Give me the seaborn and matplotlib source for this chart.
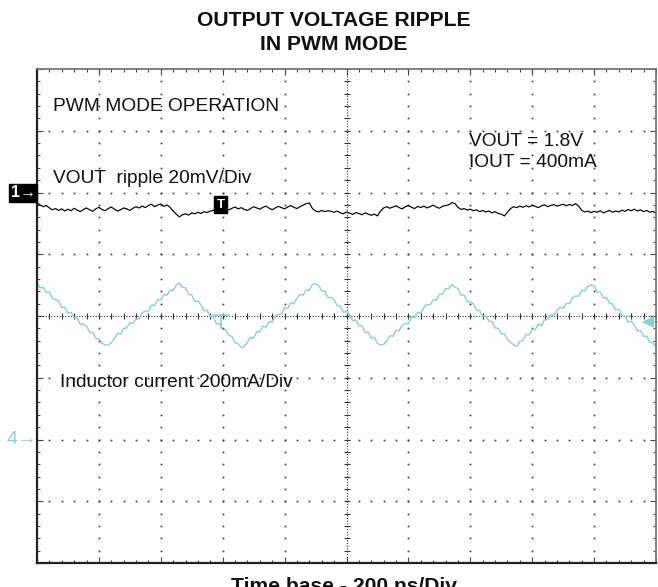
import numpy as np
import pandas as pd
import matplotlib
matplotlib.use("Agg")
import matplotlib.pyplot as plt
import seaborn as sns

# ---------------- data ----------------
SAMPLE_NS = 10           # sample spacing of the traces
NS_PER_DIV = 200         # time base
VOUT_MV_PER_DIV = 20     # channel 1 scale
IL_MA_PER_DIV = 200      # channel 4 scale
CH1_GROUND_DIV = 2       # channel 1 marker position (divisions from centre)
CH4_GROUND_DIV = -2      # channel 4 marker position

# VOUT ripple (mV relative to channel-1 reference), one value per 10 ns
vout_ripple_mv = [
    -3.4, -4.0, -4.6, -4.2, -5.0, -5.6, -5.2, -5.8,
    -5.3, -6.0, -5.4, -5.9, -5.1, -5.7, -6.2, -5.5, -5.0, -5.6, -6.1, -5.3, -4.8,
    -5.5, -5.9, -5.2, -4.7, -5.4, -6.0, -5.6, -5.0, -5.3, -5.8, -5.1, -4.6, -5.0,
    -4.4, -4.9, -4.2, -3.8, -4.6, -4.1, -3.7, -4.5, -4.0, -4.8,
    -6.0, -7.0, -7.9, -7.2,
    -6.9, -7.3, -6.6, -6.9, -6.4, -6.8, -6.2, -6.5, -6.0, -5.8,
    -5.5, -5.2, -5.7, -5.4,
    -5.6, -5.1, -4.7, -5.3, -4.9, -5.5, -5.8, -5.2, -4.6, -5.0, -5.4, -4.8, -4.4,
    -5.1, -5.6, -5.0, -4.5, -4.9, -5.3, -4.7, -4.2, -4.8, -5.2, -4.6, -4.1, -3.6, -3.4,
    -5.2, -6.0, -6.3, -5.8, -6.2, -5.9, -6.1,
    -6.4, -6.0, -6.6, -6.9, -6.3, -6.7, -7.1, -6.5, -6.8, -7.2, -6.6, -7.0, -7.4, -7.0, -7.6,
    -6.0, -5.0, -4.6, -5.1, -4.7, -4.3, -4.9, -5.3, -4.6, -4.2, -4.8, -5.2, -4.5,
    -4.9, -4.4, -5.0, -4.6, -4.1, -4.7, -5.1, -4.5, -4.2, -4.0,
    -3.3, -3.5,
    -4.8, -5.5, -5.2, -5.7, -5.4,
    -5.9, -5.6, -6.2, -5.8, -6.3, -6.0, -6.6, -6.2, -6.8, -7.0, -7.6, -6.4,
    -5.2, -4.6, -4.9, -4.4, -4.8, -4.3, -4.7, -4.1, -4.5, -4.9, -4.3, -4.0, -4.6,
    -4.2, -3.9, -4.4, -4.1, -3.8, -4.3, -3.9, -4.2, -3.6, -4.4,
    -5.8, -6.3, -6.0, -6.5, -6.1, -6.4, -5.9, -6.6, -6.2, -5.8, -6.4, -6.0, -6.3,
    -5.7, -6.1, -5.5, -5.9, -5.4, -6.0, -5.6, -6.2, -5.8, -6.4, -6.1, -6.8,
]

# Inductor current (mA), one value per 10 ns
inductor_current_ma = [
    508, 491, 493, 476, 478, 457, 453, 449, 428, 428, 408, 412, 395, 393, 373, 373,
    367, 347, 347, 327, 326, 312, 306,
    306, 313, 327, 344, 341, 360, 361, 379, 375, 392, 390, 411, 416, 416, 435, 434,
    453, 452, 470, 467, 484, 482, 500, 507,
    493, 491, 470, 468, 447, 449, 436, 417, 418, 398, 397, 374, 375, 355, 356, 337,
    334, 313, 310, 298,
    302, 315, 331, 328, 349, 349, 367, 364, 382, 380, 400, 405, 406, 427, 425, 443,
    439, 458, 470, 467, 485, 483, 503, 504,
    499, 481, 481, 460, 460, 453, 433, 432, 412, 415, 402, 385, 387, 369, 368, 346,
    348, 329, 331, 311, 306,
    308, 319, 336, 334, 354, 352, 370, 376, 375, 396, 395, 412, 409, 428, 438, 436,
    452, 451, 471, 470, 489, 488, 502,
    494, 489, 468, 467, 446, 447, 439, 419, 418, 399, 400, 383, 382, 362, 360, 342,
    343, 324, 315, 306,
    301, 318, 321, 340, 339, 357, 356, 374, 369, 388, 388, 405, 402, 418, 428, 425,
    441, 440, 458, 465, 464, 483, 481, 497, 500,
    498, 478, 478, 458, 460, 441, 439, 419, 422, 402, 399, 381, 383, 371, 352, 353,
    334, 335, 314, 313, 300,
]

title_lines = ["OUTPUT VOLTAGE RIPPLE", "IN PWM MODE"]
time_base_label = "Time base - 200 ns/Div"
annotations = [
    ("PWM MODE OPERATION", 0.26, 3.32),
    ("VOUT  ripple 20mV/Div", 0.26, 2.16),
    ("VOUT = 1.8V", 6.98, 2.755),
    ("IOUT = 400mA", 6.98, 2.415),
    ("Inductor current 200mA/Div", 0.37, -1.15),
]

# ---------------- style ----------------
sns.set_style("white")
plt.rcParams["font.family"] = ["Liberation Sans", "DejaVu Sans"]

CYAN = "#8ccfd0"
W, H = 658, 587
fig = plt.figure(figsize=(W / 100, H / 100), dpi=100)
ax = fig.add_axes([37 / W, (H - 563) / H, (656 - 37) / W, (563 - 69) / H])
ax.set_xlim(0, 10)
ax.set_ylim(-4, 4)

# ---------------- graticule ----------------
minor = np.arange(0, 10.001, 0.2)
minor_y = np.arange(-4, 4.001, 0.2)
for k in range(1, 10):
    if k == 5:
        continue
    ax.plot(np.full_like(minor_y, k), minor_y, ls="none", marker="s", ms=1.2,
            color="#333333", mew=0)
for k in range(-3, 4):
    if k == 0:
        continue
    ax.plot(minor, np.full_like(minor, k), ls="none", marker="s", ms=1.2,
            color="#333333", mew=0)
# centre cross with tick marks
ax.axvline(5, ls=(0, (1, 1.5)), lw=0.8, color="#333333")
ax.axhline(0, ls=(0, (1, 1.5)), lw=0.8, color="#333333")
ax.plot(minor, np.zeros_like(minor), ls="none", marker="|", ms=4, mew=0.8, color="#333333")
ax.plot(np.full_like(minor_y, 5), minor_y, ls="none", marker="_", ms=4, mew=0.8, color="#333333")

# border ticks
ax.set_xticks(np.arange(0, 10.001, 1))
ax.set_yticks(np.arange(-4, 4.001, 1))
ax.set_xticks(minor, minor=True)
ax.set_yticks(minor_y, minor=True)
ax.tick_params(which="both", direction="in", top=True, right=True, bottom=True, left=True,
               labelbottom=False, labelleft=False, color="#444444")
ax.tick_params(which="major", length=4, width=0.8)
ax.tick_params(which="minor", length=2.5, width=0.8)
for side in ["left", "bottom"]:
    ax.spines[side].set_color("#222222")
    ax.spines[side].set_linewidth(1.6)
for side in ["top", "right"]:
    ax.spines[side].set_color("#777777")
    ax.spines[side].set_linewidth(1.3)

# ---------------- traces ----------------
t1 = np.arange(len(vout_ripple_mv)) * SAMPLE_NS
df_v = pd.DataFrame({"div": t1 / NS_PER_DIV,
                     "y": CH1_GROUND_DIV + np.array(vout_ripple_mv) / VOUT_MV_PER_DIV})
t4 = np.arange(len(inductor_current_ma)) * SAMPLE_NS
df_i = pd.DataFrame({"div": t4 / NS_PER_DIV,
                     "y": CH4_GROUND_DIV + np.array(inductor_current_ma) / IL_MA_PER_DIV})

sns.lineplot(data=df_i, x="div", y="y", ax=ax, color=CYAN, lw=1.0,
             estimator=None, sort=False)
sns.lineplot(data=df_v, x="div", y="y", ax=ax, color="black", lw=0.85,
             estimator=None, sort=False)
ax.set_xlabel("")
ax.set_ylabel("")

# cyan trigger "T" on centre line and trigger level arrow on right
ax.plot([2.85, 3.1], [0.02, 0.02], color=CYAN, lw=1.2)
ax.plot([2.975, 2.975], [0.02, -0.2], color=CYAN, lw=1.2)
ax.plot([9.87], [-0.1], marker="<", ms=9, color=CYAN, mew=0, clip_on=False)
ax.plot([9.9, 10.05], [-0.1, -0.1], color=CYAN, lw=1.2, clip_on=False)

# black trigger-position marker
ax.text(2.97, 1.80, "T", ha="center", va="center", color="white", fontsize=9.5,
        fontweight="bold",
        bbox=dict(boxstyle="square,pad=0.18", fc="black", ec="black"))

# annotations inside the screen
for txt, x, y in annotations:
    ax.text(x, y, txt, ha="left", va="baseline", fontsize=13.8, color="#111111")

# channel markers outside left edge
fig.text(23 / W, 1 - 193 / H, "1\u2192", ha="center", va="center", color="white",
         fontsize=11.5, fontweight="bold",
         bbox=dict(boxstyle="square,pad=0.1", fc="black", ec="black"))
fig.text(22 / W, 1 - 439 / H, "4\u2192", ha="center", va="center", color=CYAN,
         fontsize=14)

# titles
fig.text(334 / W, 1 - 20 / H, title_lines[0], ha="center", va="center",
         fontsize=15.2, fontweight="bold", color="#111111")
fig.text(334 / W, 1 - 44 / H, title_lines[1], ha="center", va="center",
         fontsize=15.2, fontweight="bold", color="#111111")
fig.text(344 / W, (H - 592) / H, time_base_label, ha="center", va="baseline",
         fontsize=15.2, fontweight="bold", color="#111111")

fig.savefig("out.png", dpi=100)
